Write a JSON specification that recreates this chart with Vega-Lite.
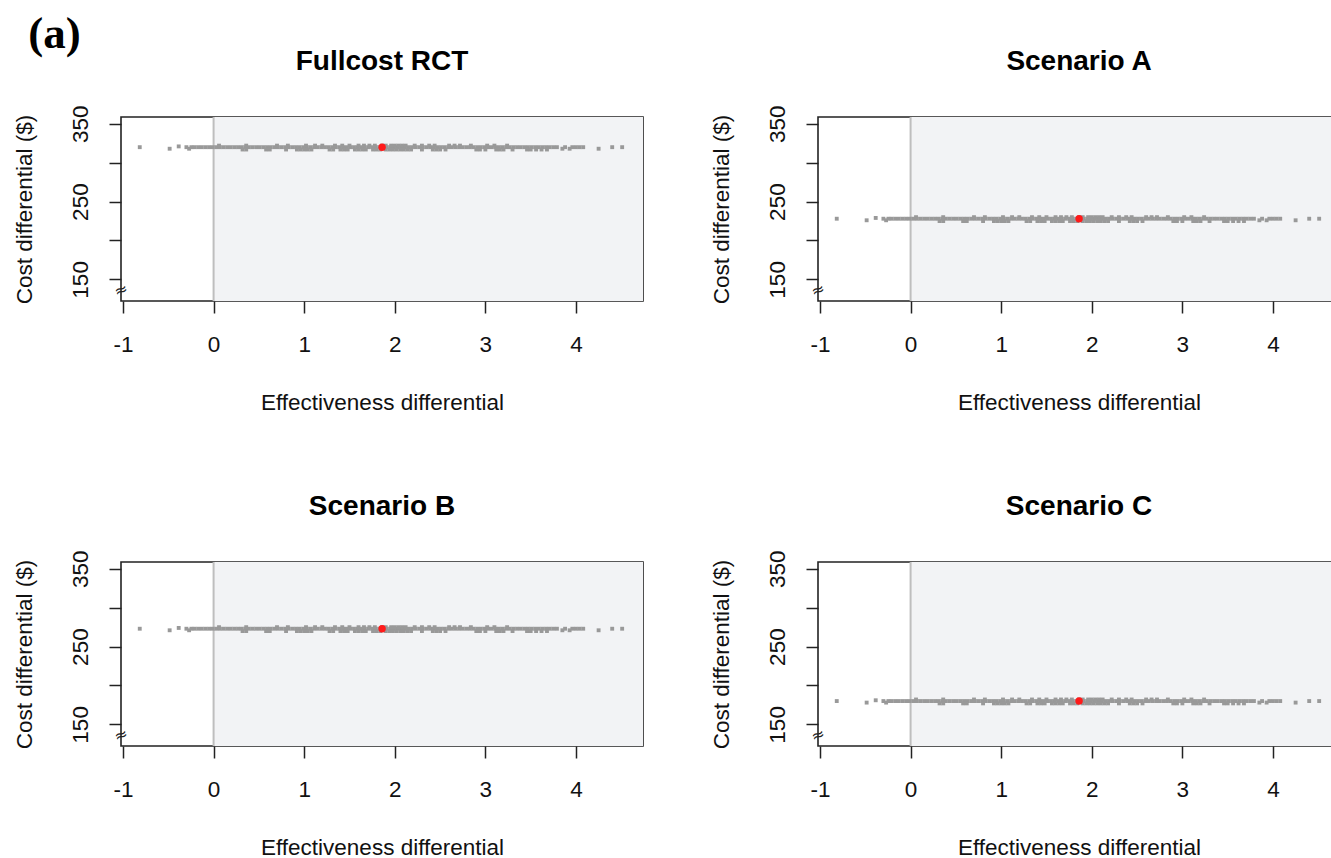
{
  "$schema": "https://vega.github.io/schema/vega-lite/v6.json",
  "background": "white",
  "padding": {"left": 12, "top": 12, "right": 0, "bottom": 5},
  "title": {"text": "(a)", "anchor": "start", "frame": "bounds", "font": "Liberation Serif", "fontSize": 45, "fontWeight": "bold", "color": "#000", "dx": 16, "offset": -10},
  "data": {"values": [
    {"e":-0.815,"F":320,"A":228,"B":273,"C":180},
    {"e":-0.485,"F":318,"A":226,"B":271,"C":178},
    {"e":-0.385,"F":321,"A":229,"B":274,"C":181},
    {"e":-0.30,"F":320,"A":228,"B":273,"C":180},
    {"e":-0.27,"F":318,"A":226,"B":271,"C":178},
    {"e":-0.245,"F":320,"A":228,"B":273,"C":180},
    {"e":-0.21,"F":320,"A":228,"B":273,"C":180},
    {"e":-0.17,"F":320,"A":228,"B":273,"C":180},
    {"e":-0.13,"F":320,"A":228,"B":273,"C":180},
    {"e":-0.09,"F":320,"A":228,"B":273,"C":180},
    {"e":-0.05,"F":320,"A":228,"B":273,"C":180},
    {"e":-0.01,"F":320,"A":228,"B":273,"C":180},
    {"e":0.03,"F":320,"A":228,"B":273,"C":180},
    {"e":0.07,"F":320,"A":228,"B":273,"C":180},
    {"e":0.11,"F":320,"A":228,"B":273,"C":180},
    {"e":0.15,"F":320,"A":228,"B":273,"C":180},
    {"e":0.19,"F":320,"A":228,"B":273,"C":180},
    {"e":0.23,"F":320,"A":228,"B":273,"C":180},
    {"e":0.27,"F":320,"A":228,"B":273,"C":180},
    {"e":0.31,"F":320,"A":228,"B":273,"C":180},
    {"e":0.35,"F":320,"A":228,"B":273,"C":180},
    {"e":0.39,"F":320,"A":228,"B":273,"C":180},
    {"e":0.43,"F":320,"A":228,"B":273,"C":180},
    {"e":0.47,"F":320,"A":228,"B":273,"C":180},
    {"e":0.51,"F":320,"A":228,"B":273,"C":180},
    {"e":0.55,"F":320,"A":228,"B":273,"C":180},
    {"e":0.59,"F":320,"A":228,"B":273,"C":180},
    {"e":0.63,"F":320,"A":228,"B":273,"C":180},
    {"e":0.67,"F":320,"A":228,"B":273,"C":180},
    {"e":0.71,"F":320,"A":228,"B":273,"C":180},
    {"e":0.75,"F":320,"A":228,"B":273,"C":180},
    {"e":0.79,"F":320,"A":228,"B":273,"C":180},
    {"e":0.83,"F":320,"A":228,"B":273,"C":180},
    {"e":0.87,"F":320,"A":228,"B":273,"C":180},
    {"e":0.91,"F":320,"A":228,"B":273,"C":180},
    {"e":0.95,"F":320,"A":228,"B":273,"C":180},
    {"e":0.99,"F":320,"A":228,"B":273,"C":180},
    {"e":1.03,"F":320,"A":228,"B":273,"C":180},
    {"e":1.07,"F":320,"A":228,"B":273,"C":180},
    {"e":1.11,"F":320,"A":228,"B":273,"C":180},
    {"e":1.15,"F":320,"A":228,"B":273,"C":180},
    {"e":1.19,"F":320,"A":228,"B":273,"C":180},
    {"e":1.23,"F":320,"A":228,"B":273,"C":180},
    {"e":1.27,"F":320,"A":228,"B":273,"C":180},
    {"e":1.31,"F":320,"A":228,"B":273,"C":180},
    {"e":1.35,"F":320,"A":228,"B":273,"C":180},
    {"e":1.39,"F":320,"A":228,"B":273,"C":180},
    {"e":1.43,"F":320,"A":228,"B":273,"C":180},
    {"e":1.47,"F":320,"A":228,"B":273,"C":180},
    {"e":1.51,"F":320,"A":228,"B":273,"C":180},
    {"e":1.55,"F":320,"A":228,"B":273,"C":180},
    {"e":1.59,"F":320,"A":228,"B":273,"C":180},
    {"e":1.63,"F":320,"A":228,"B":273,"C":180},
    {"e":1.67,"F":320,"A":228,"B":273,"C":180},
    {"e":1.71,"F":320,"A":228,"B":273,"C":180},
    {"e":1.75,"F":320,"A":228,"B":273,"C":180},
    {"e":1.79,"F":320,"A":228,"B":273,"C":180},
    {"e":1.83,"F":320,"A":228,"B":273,"C":180},
    {"e":1.87,"F":320,"A":228,"B":273,"C":180},
    {"e":1.91,"F":320,"A":228,"B":273,"C":180},
    {"e":1.95,"F":320,"A":228,"B":273,"C":180},
    {"e":1.99,"F":320,"A":228,"B":273,"C":180},
    {"e":2.03,"F":320,"A":228,"B":273,"C":180},
    {"e":2.07,"F":320,"A":228,"B":273,"C":180},
    {"e":2.11,"F":320,"A":228,"B":273,"C":180},
    {"e":2.15,"F":320,"A":228,"B":273,"C":180},
    {"e":2.19,"F":320,"A":228,"B":273,"C":180},
    {"e":2.23,"F":320,"A":228,"B":273,"C":180},
    {"e":2.27,"F":320,"A":228,"B":273,"C":180},
    {"e":2.31,"F":320,"A":228,"B":273,"C":180},
    {"e":2.35,"F":320,"A":228,"B":273,"C":180},
    {"e":2.39,"F":320,"A":228,"B":273,"C":180},
    {"e":2.43,"F":320,"A":228,"B":273,"C":180},
    {"e":2.47,"F":320,"A":228,"B":273,"C":180},
    {"e":2.51,"F":320,"A":228,"B":273,"C":180},
    {"e":2.55,"F":320,"A":228,"B":273,"C":180},
    {"e":2.59,"F":320,"A":228,"B":273,"C":180},
    {"e":2.63,"F":320,"A":228,"B":273,"C":180},
    {"e":2.67,"F":320,"A":228,"B":273,"C":180},
    {"e":2.71,"F":320,"A":228,"B":273,"C":180},
    {"e":2.75,"F":320,"A":228,"B":273,"C":180},
    {"e":2.79,"F":320,"A":228,"B":273,"C":180},
    {"e":2.83,"F":320,"A":228,"B":273,"C":180},
    {"e":2.87,"F":320,"A":228,"B":273,"C":180},
    {"e":2.91,"F":320,"A":228,"B":273,"C":180},
    {"e":2.95,"F":320,"A":228,"B":273,"C":180},
    {"e":2.99,"F":320,"A":228,"B":273,"C":180},
    {"e":3.03,"F":320,"A":228,"B":273,"C":180},
    {"e":3.07,"F":320,"A":228,"B":273,"C":180},
    {"e":3.11,"F":320,"A":228,"B":273,"C":180},
    {"e":3.15,"F":320,"A":228,"B":273,"C":180},
    {"e":3.19,"F":320,"A":228,"B":273,"C":180},
    {"e":3.23,"F":320,"A":228,"B":273,"C":180},
    {"e":3.27,"F":320,"A":228,"B":273,"C":180},
    {"e":3.31,"F":320,"A":228,"B":273,"C":180},
    {"e":3.35,"F":320,"A":228,"B":273,"C":180},
    {"e":3.39,"F":320,"A":228,"B":273,"C":180},
    {"e":3.43,"F":320,"A":228,"B":273,"C":180},
    {"e":3.47,"F":320,"A":228,"B":273,"C":180},
    {"e":3.51,"F":320,"A":228,"B":273,"C":180},
    {"e":3.55,"F":320,"A":228,"B":273,"C":180},
    {"e":3.59,"F":320,"A":228,"B":273,"C":180},
    {"e":3.63,"F":320,"A":228,"B":273,"C":180},
    {"e":3.67,"F":320,"A":228,"B":273,"C":180},
    {"e":3.71,"F":320,"A":228,"B":273,"C":180},
    {"e":3.75,"F":320,"A":228,"B":273,"C":180},
    {"e":3.79,"F":320,"A":228,"B":273,"C":180},
    {"e":3.85,"F":318,"A":226,"B":271,"C":178},
    {"e":3.88,"F":320,"A":228,"B":273,"C":180},
    {"e":3.93,"F":318,"A":226,"B":271,"C":178},
    {"e":3.96,"F":320,"A":228,"B":273,"C":180},
    {"e":4.00,"F":320,"A":228,"B":273,"C":180},
    {"e":4.04,"F":320,"A":228,"B":273,"C":180},
    {"e":4.08,"F":320,"A":228,"B":273,"C":180},
    {"e":4.25,"F":318,"A":226,"B":271,"C":178},
    {"e":4.40,"F":320,"A":228,"B":273,"C":180},
    {"e":4.51,"F":320,"A":228,"B":273,"C":180},
    {"e":0.32,"F":317,"A":225,"B":270,"C":177},
    {"e":0.36,"F":317,"A":225,"B":270,"C":177},
    {"e":0.58,"F":317,"A":225,"B":270,"C":177},
    {"e":0.62,"F":317,"A":225,"B":270,"C":177},
    {"e":0.80,"F":317,"A":225,"B":270,"C":177},
    {"e":0.92,"F":317,"A":225,"B":270,"C":177},
    {"e":0.96,"F":317,"A":225,"B":270,"C":177},
    {"e":1.00,"F":317,"A":225,"B":270,"C":177},
    {"e":1.04,"F":317,"A":225,"B":270,"C":177},
    {"e":1.08,"F":317,"A":225,"B":270,"C":177},
    {"e":1.28,"F":317,"A":225,"B":270,"C":177},
    {"e":1.32,"F":317,"A":225,"B":270,"C":177},
    {"e":1.40,"F":317,"A":225,"B":270,"C":177},
    {"e":1.44,"F":317,"A":225,"B":270,"C":177},
    {"e":1.48,"F":317,"A":225,"B":270,"C":177},
    {"e":1.56,"F":317,"A":225,"B":270,"C":177},
    {"e":1.60,"F":317,"A":225,"B":270,"C":177},
    {"e":1.64,"F":317,"A":225,"B":270,"C":177},
    {"e":1.68,"F":317,"A":225,"B":270,"C":177},
    {"e":1.76,"F":317,"A":225,"B":270,"C":177},
    {"e":1.80,"F":317,"A":225,"B":270,"C":177},
    {"e":1.84,"F":317,"A":225,"B":270,"C":177},
    {"e":1.90,"F":317,"A":225,"B":270,"C":177},
    {"e":1.94,"F":317,"A":225,"B":270,"C":177},
    {"e":1.98,"F":317,"A":225,"B":270,"C":177},
    {"e":2.02,"F":317,"A":225,"B":270,"C":177},
    {"e":2.06,"F":317,"A":225,"B":270,"C":177},
    {"e":2.10,"F":317,"A":225,"B":270,"C":177},
    {"e":2.14,"F":317,"A":225,"B":270,"C":177},
    {"e":2.18,"F":317,"A":225,"B":270,"C":177},
    {"e":2.30,"F":317,"A":225,"B":270,"C":177},
    {"e":2.42,"F":317,"A":225,"B":270,"C":177},
    {"e":2.46,"F":317,"A":225,"B":270,"C":177},
    {"e":2.50,"F":317,"A":225,"B":270,"C":177},
    {"e":2.56,"F":317,"A":225,"B":270,"C":177},
    {"e":2.90,"F":317,"A":225,"B":270,"C":177},
    {"e":2.94,"F":317,"A":225,"B":270,"C":177},
    {"e":3.00,"F":317,"A":225,"B":270,"C":177},
    {"e":3.12,"F":317,"A":225,"B":270,"C":177},
    {"e":3.16,"F":317,"A":225,"B":270,"C":177},
    {"e":3.20,"F":317,"A":225,"B":270,"C":177},
    {"e":3.30,"F":317,"A":225,"B":270,"C":177},
    {"e":3.46,"F":317,"A":225,"B":270,"C":177},
    {"e":3.50,"F":317,"A":225,"B":270,"C":177},
    {"e":3.56,"F":317,"A":225,"B":270,"C":177},
    {"e":3.62,"F":317,"A":225,"B":270,"C":177},
    {"e":3.68,"F":317,"A":225,"B":270,"C":177},
    {"e":0.06,"F":322,"A":230,"B":275,"C":182},
    {"e":0.36,"F":322,"A":230,"B":275,"C":182},
    {"e":0.70,"F":322,"A":230,"B":275,"C":182},
    {"e":0.82,"F":322,"A":230,"B":275,"C":182},
    {"e":1.02,"F":322,"A":230,"B":275,"C":182},
    {"e":1.12,"F":322,"A":230,"B":275,"C":182},
    {"e":1.20,"F":322,"A":230,"B":275,"C":182},
    {"e":1.34,"F":322,"A":230,"B":275,"C":182},
    {"e":1.42,"F":322,"A":230,"B":275,"C":182},
    {"e":1.50,"F":322,"A":230,"B":275,"C":182},
    {"e":1.60,"F":322,"A":230,"B":275,"C":182},
    {"e":1.66,"F":322,"A":230,"B":275,"C":182},
    {"e":1.72,"F":322,"A":230,"B":275,"C":182},
    {"e":1.78,"F":322,"A":230,"B":275,"C":182},
    {"e":1.86,"F":322,"A":230,"B":275,"C":182},
    {"e":1.90,"F":322,"A":230,"B":275,"C":182},
    {"e":1.96,"F":322,"A":230,"B":275,"C":182},
    {"e":2.00,"F":322,"A":230,"B":275,"C":182},
    {"e":2.04,"F":322,"A":230,"B":275,"C":182},
    {"e":2.08,"F":322,"A":230,"B":275,"C":182},
    {"e":2.12,"F":322,"A":230,"B":275,"C":182},
    {"e":2.22,"F":322,"A":230,"B":275,"C":182},
    {"e":2.30,"F":322,"A":230,"B":275,"C":182},
    {"e":2.38,"F":322,"A":230,"B":275,"C":182},
    {"e":2.44,"F":322,"A":230,"B":275,"C":182},
    {"e":2.60,"F":322,"A":230,"B":275,"C":182},
    {"e":2.66,"F":322,"A":230,"B":275,"C":182},
    {"e":2.72,"F":322,"A":230,"B":275,"C":182},
    {"e":2.84,"F":322,"A":230,"B":275,"C":182},
    {"e":3.02,"F":322,"A":230,"B":275,"C":182},
    {"e":3.10,"F":322,"A":230,"B":275,"C":182},
    {"e":3.24,"F":322,"A":230,"B":275,"C":182},
    {"k":"m","e":1.86,"F":320,"A":228,"B":273,"C":180}
  ]},
  "transform": [{"fold": ["F","A","B","C"], "as": ["p","c"]}],
  "facet": {
    "field": "p", "type": "nominal", "sort": ["F","A","B","C"],
    "header": {"title": null, "labelExpr": "datum.value == 'F' ? 'Fullcost RCT' : 'Scenario ' + datum.value", "labelFont": "Liberation Sans", "labelFontSize": 28, "labelFontWeight": "bold", "labelColor": "#000", "labelPadding": 29}
  },
  "columns": 2,
  "spacing": {"row": 77, "column": 65},
  "resolve": {"axis": {"x": "independent", "y": "independent"}},
  "spec": {
    "width": 522,
    "height": 184,
    "layer": [
      {"transform": [{"filter": "datum.k == 'm'"}],
       "mark": {"type": "rect", "color": "#F2F3F5", "clip": true},
       "encoding": {
         "x": {"datum": 0, "type": "quantitative", "scale": {"domain": [-1.022, 4.74], "nice": false, "zero": false},
               "axis": {"values": [-1,0,1,2,3,4], "labelExpr": "'' + datum.value", "title": "Effectiveness differential", "labelPadding": 20, "titlePadding": 36, "labelFlush": false}},
         "x2": {"datum": 10},
         "y": {"datum": 0, "type": "quantitative", "scale": {"domain": [122.2, 358.8], "nice": false, "zero": false},
               "axis": {"values": [150,200,250,300,350], "labelExpr": "datum.value == 200 || datum.value == 300 ? '' : datum.label", "labelAngle": -90, "labelAlign": "center", "labelBaseline": "alphabetic", "labelPadding": 22, "title": "Cost differential ($)", "titlePadding": 33}},
         "y2": {"datum": 1000}
       }},
      {"transform": [{"filter": "datum.k == 'm'"}],
       "mark": {"type": "rule", "color": "#BEBEBE", "strokeWidth": 2},
       "encoding": {"x": {"datum": 0, "type": "quantitative"}}},
      {"transform": [{"filter": "datum.k != 'm'"}],
       "mark": {"type": "square", "color": "#999999", "size": 15, "opacity": 1, "filled": true},
       "encoding": {
         "x": {"field": "e", "type": "quantitative"},
         "y": {"field": "c", "type": "quantitative"}
       }},
      {"transform": [{"filter": "datum.k == 'm'"}],
       "mark": {"type": "circle", "color": "#FF1A1A", "size": 55, "opacity": 1},
       "encoding": {
         "x": {"field": "e", "type": "quantitative"},
         "y": {"field": "c", "type": "quantitative"}
       }},
      {"transform": [{"filter": "datum.k == 'm'"}],
       "mark": {"type": "text", "text": "≈", "fontSize": 16, "angle": -20, "color": "#222", "font": "DejaVu Sans"},
       "encoding": {
         "x": {"datum": -1.022, "type": "quantitative"},
         "y": {"datum": 136, "type": "quantitative"}
       }}
    ]
  },
  "config": {
    "view": {"stroke": "#222", "strokeWidth": 1.6},
    "axis": {"domain": false, "grid": false, "ticks": true, "tickColor": "#222", "tickWidth": 1.5, "tickSize": 12,
             "labelFont": "Liberation Sans", "labelFontSize": 22.5, "labelColor": "#111",
             "titleFont": "Liberation Sans", "titleFontSize": 22.5, "titleFontWeight": "normal", "titleColor": "#111"}
  }
}
